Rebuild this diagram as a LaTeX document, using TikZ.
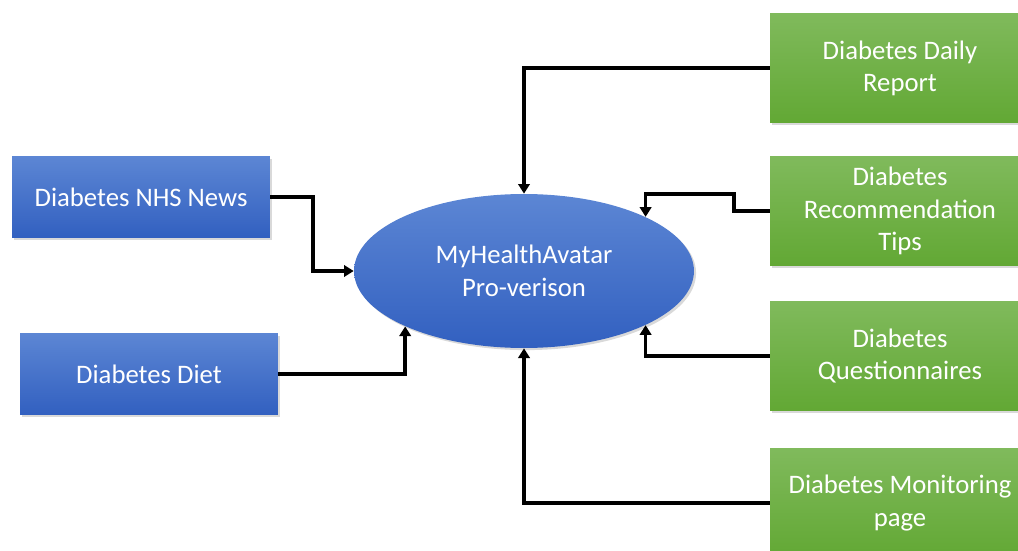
\documentclass[tikz,border=0pt]{standalone}
\usepackage{fontspec}
\setmainfont{Carlito}
\usetikzlibrary{shapes.geometric, arrows.meta, positioning, calc, shadows}
\definecolor{mhablue}{RGB}{50,96,192}
\definecolor{mhablueTop}{RGB}{92,134,212}
\definecolor{mhagreen}{RGB}{98,168,52}
\definecolor{mhagreenTop}{RGB}{128,186,92}
\tikzset{
  %% ---- boxes ----
  bluebox/.style  = {rectangle, draw=none, top color=mhablueTop,
                     bottom color=mhablue, text=white,
                     minimum width=5.16cm, minimum height=1.62cm,
                     align=center, font=\fontsize{15.2}{18.3}\selectfont,
                     drop shadow={shadow xshift=1.2pt, shadow yshift=-1.2pt,
                                  opacity=0.3}},
  greenbox/.style = {rectangle, draw=none, top color=mhagreenTop,
                     bottom color=mhagreen, text=white,
                     minimum width=5.2cm, minimum height=2.2cm,
                     align=center, font=\fontsize{15.2}{18.3}\selectfont,
                     drop shadow={shadow xshift=1.2pt, shadow yshift=-1.2pt,
                                  opacity=0.3}},
  hub/.style      = {ellipse, draw=none, top color=mhablueTop,
                     bottom color=mhablue, text=white,
                     minimum width=6.8cm, minimum height=3.08cm,
                     align=center, font=\fontsize{15.2}{18.6}\selectfont,
                     drop shadow={shadow xshift=1.2pt, shadow yshift=-1.2pt,
                                  opacity=0.3}},
  %% ---- arrows ----
  arrow/.style    = {-{Triangle[width=6.5pt, length=5.5pt]},
                     line width=2.1pt, color=black},
}
\begin{document}
\begin{tikzpicture}[x=0.02cm, y=-0.02cm]

  \useasboundingbox (0,0) rectangle (1018,551);

  %% Centre
  \node[hub] (avatar) at (524,271) {MyHealthAvatar\\Pro-verison};

  %% Left sources
  \node[bluebox] (news) at (141,197) {Diabetes NHS News};
  \node[bluebox] (diet) at (149,374) {Diabetes Diet};

  %% Right sources
  \node[greenbox] (daily)  at (900,68)  {Diabetes Daily\\Report};
  \node[greenbox] (tips)   at (900,211) {Diabetes\\Recommendation\\Tips};
  \node[greenbox] (quest)  at (900,356) {Diabetes\\Questionnaires};
  \node[greenbox] (monit)  at (900,503) {Diabetes Monitoring\\page};

  %% Connectors
  \draw[arrow] (news.east) -- ++(43,0) |- (avatar.west);
  \draw[arrow] (diet.east) -| (avatar.-155.9);
  \draw[arrow] (daily.west) -| (avatar.north);
  \draw[arrow] (tips.west) -- ++(-36,0) -- ++(0,-17)
               -| (avatar.24.05);
  \draw[arrow] (quest.west) -| (avatar.-24.05);
  \draw[arrow] (monit.west) -| (avatar.south);

\end{tikzpicture}
\end{document}
